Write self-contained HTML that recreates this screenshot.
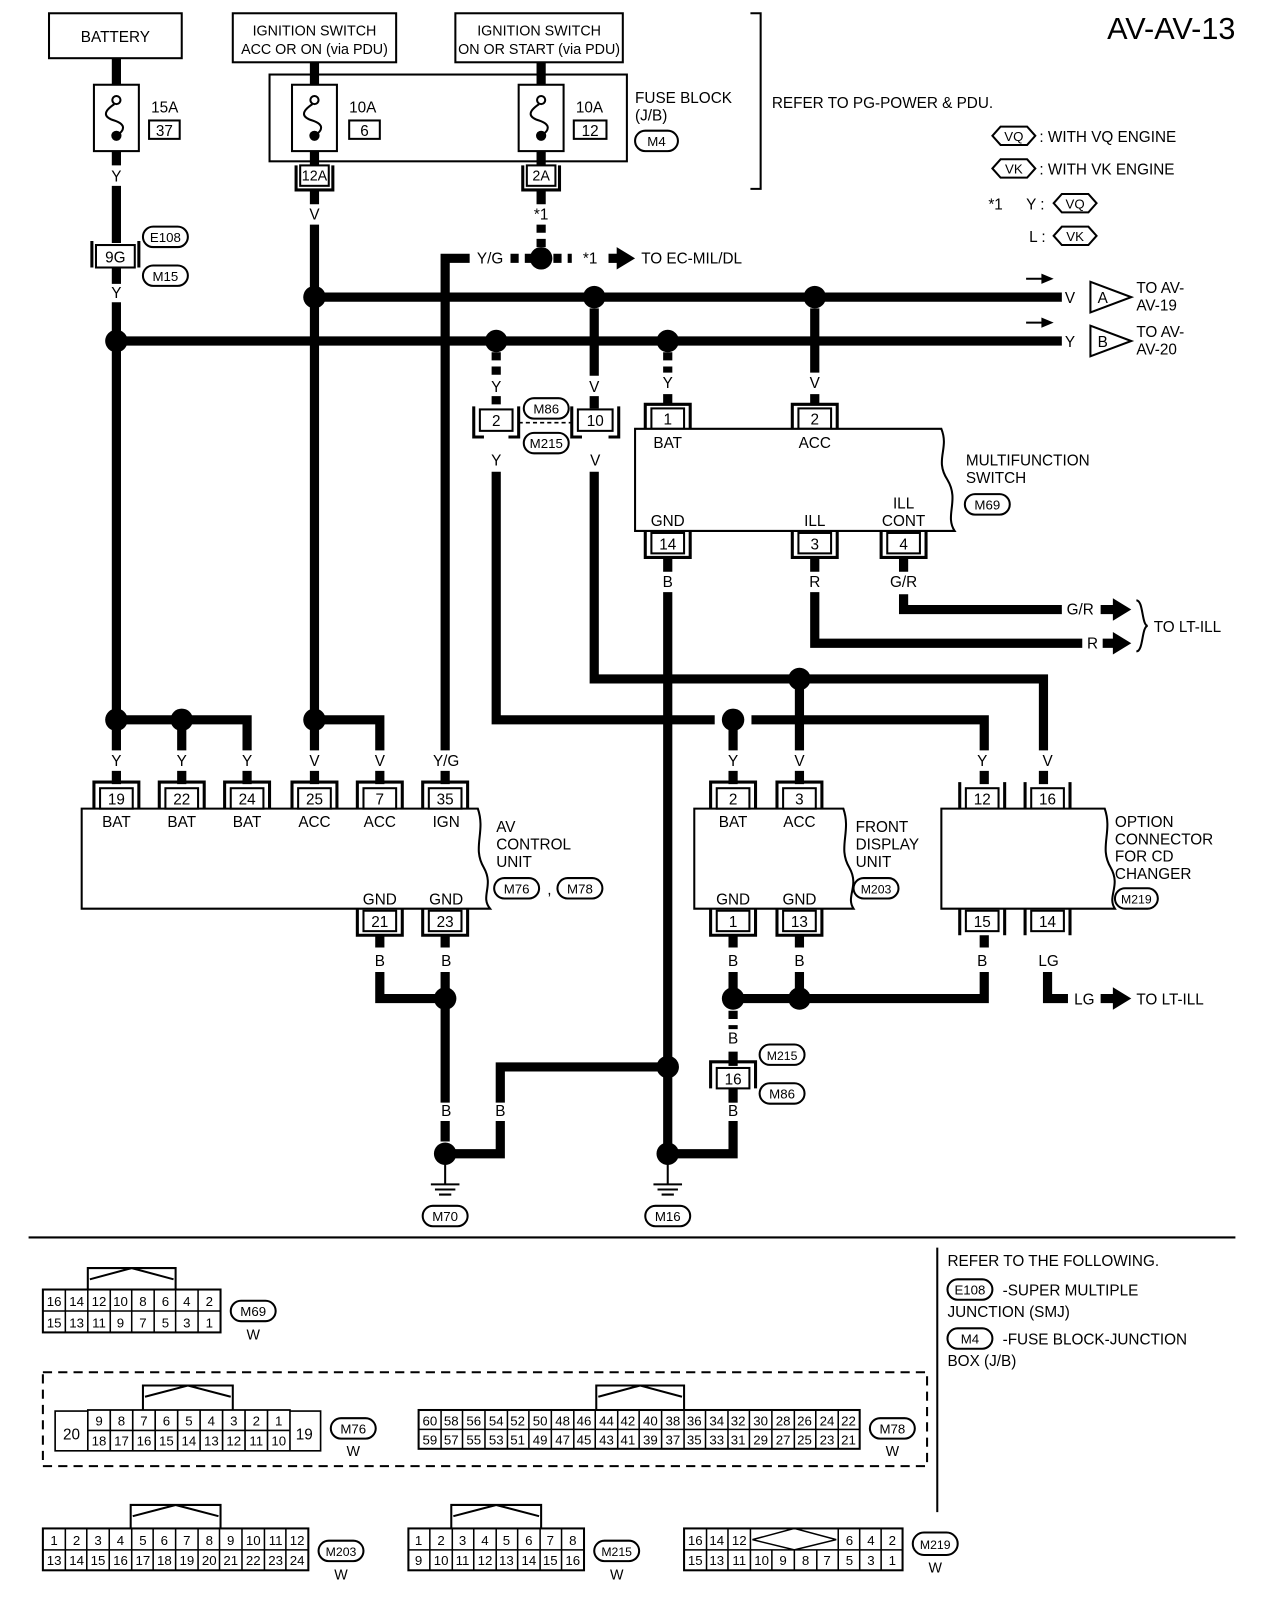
<!DOCTYPE html>
<html><head><meta charset="utf-8"><style>
html,body{margin:0;padding:0;background:#fff;}
svg{display:block;font-family:"Liberation Sans",sans-serif;}
text{font-size:15px;fill:#000;}
.c{text-anchor:middle;}
.w{stroke:#000;stroke-width:9;fill:none;}
.d{stroke:#000;stroke-width:9;fill:none;stroke-dasharray:8,6;}
.t{stroke:#000;stroke-width:2;fill:#fff;}
.n{stroke:#000;stroke-width:1.5;fill:none;}
.g text{font-size:13px;text-anchor:middle;}
</style></head><body>
<svg width="1280" height="1598" viewBox="0 0 1280 1598" xmlns="http://www.w3.org/2000/svg">
<g transform="scale(1.021)">
<!-- header boxes -->
<rect x="48" y="13" width="130" height="44" class="t"/><text x="113" y="41" class="c">BATTERY</text>
<rect x="228" y="13" width="160" height="48" class="t"/><text x="308" y="35" class="c" style="font-size:14px">IGNITION SWITCH</text><text x="308" y="53" class="c" style="font-size:14px">ACC OR ON (via PDU)</text>
<rect x="446" y="13" width="164" height="48" class="t"/><text x="528" y="35" class="c" style="font-size:14px">IGNITION SWITCH</text><text x="528" y="53" class="c" style="font-size:14px">ON OR START (via PDU)</text>
<text x="1210" y="38" style="font-size:30px;text-anchor:end">AV-AV-13</text>
<rect x="264" y="73" width="350" height="85" class="t"/>
<text x="622" y="101">FUSE BLOCK</text><text x="622" y="118">(J/B)</text>
<rect x="622" y="128" width="42" height="20" rx="10" class="t"/><text x="643" y="143" class="c" style="font-size:13px">M4</text>
<path d="M735 13 H745 V185 H735" class="n" style="stroke-width:2"/>
<text x="756" y="106">REFER TO PG-POWER &amp; PDU.</text>
<!-- legend -->
<path d="M972 133 l8 -9 h26 l8 9 l-8 9 h-26z" class="t"/><text x="993" y="138" class="c" style="font-size:13px">VQ</text><text x="1018" y="139">: WITH VQ ENGINE</text>
<path d="M972 165 l8 -9 h26 l8 9 l-8 9 h-26z" class="t"/><text x="993" y="170" class="c" style="font-size:13px">VK</text><text x="1018" y="171">: WITH VK ENGINE</text>
<text x="968" y="205">*1</text><text x="1005" y="205">Y :</text>
<path d="M1032 199 l8 -9 h26 l8 9 l-8 9 h-26z" class="t"/><text x="1053" y="204" class="c" style="font-size:13px">VQ</text>
<text x="1008" y="237">L :</text>
<path d="M1032 231 l8 -9 h26 l8 9 l-8 9 h-26z" class="t"/><text x="1053" y="236" class="c" style="font-size:13px">VK</text>

<!-- fuses -->
<g>
<path d="M114 57 V83 M114 148 V162 M114 182 V238 M114 262 V278 M114 296 V700" class="w"/>
<rect x="92" y="83" width="44" height="65" class="t"/>
<circle cx="114" cy="98" r="4" class="t"/><circle cx="114" cy="133" r="5"/>
<path d="M112 102 C100 110,102 115,112 118 C124 122,122 128,114 133" class="n" style="stroke-width:2"/>
<text x="148" y="110">15A</text><rect x="146" y="118" width="30" height="18" class="t"/><text x="161" y="133" class="c">37</text>
<text x="114" y="178" class="c">Y</text>
<rect x="94" y="240" width="38" height="22" class="t"/><path d="M90 236 V262 M136 236 V262" class="n" style="stroke-width:3"/><text x="113" y="257" class="c">9G</text>
<rect x="140" y="222" width="44" height="20" rx="10" class="t"/><text x="162" y="237" class="c" style="font-size:13px">E108</text>
<rect x="140" y="260" width="44" height="20" rx="10" class="t"/><text x="162" y="275" class="c" style="font-size:13px">M15</text>
<text x="114" y="292" class="c">Y</text>
</g>
<g>
<path d="M308 61 V83 M308 148 V162 M308 185 V200 M308 220 V700" class="w"/>
<rect x="286" y="83" width="44" height="65" class="t"/>
<circle cx="308" cy="98" r="4" class="t"/><circle cx="308" cy="133" r="5"/>
<path d="M306 102 C294 110,296 115,306 118 C318 122,316 128,308 133" class="n" style="stroke-width:2"/>
<text x="342" y="110">10A</text><rect x="342" y="118" width="30" height="18" class="t"/><text x="357" y="133" class="c">6</text>
<rect x="294" y="162" width="28" height="20" class="t"/><path d="M290 162 V186 H326 V162" class="n" style="stroke-width:3"/><text x="308" y="177" class="c" style="font-size:14px">12A</text>
<text x="308" y="215" class="c">V</text>
</g>
<g>
<path d="M530 61 V83 M530 148 V162 M530 185 V200" class="w"/><path d="M530 220 V245" class="d"/>
<rect x="508" y="83" width="44" height="65" class="t"/>
<circle cx="530" cy="98" r="4" class="t"/><circle cx="530" cy="133" r="5"/>
<path d="M528 102 C516 110,518 115,528 118 C540 122,538 128,530 133" class="n" style="stroke-width:2"/>
<text x="564" y="110">10A</text><rect x="562" y="118" width="32" height="18" class="t"/><text x="578" y="133" class="c">12</text>
<rect x="516" y="162" width="28" height="20" class="t"/><path d="M512 162 V186 H548 V162" class="n" style="stroke-width:3"/><text x="530" y="177" class="c" style="font-size:14px">2A</text>
<text x="530" y="215" class="c">*1</text>
</g>
<!-- Y/G line -->
<path d="M436 735 V253 H460" class="w"/><text x="480" y="258" class="c">Y/G</text>
<path d="M500 253 H560" class="d"/><circle cx="530" cy="253" r="11"/><text x="578" y="258" class="c">*1</text>
<path d="M596 253 H606" class="w"/><path d="M604 242 L622 253 L604 264z"/><text x="628" y="258">TO EC-MIL/DL</text>
<!-- busses -->
<path d="M308 291 H1040" class="w"/><path d="M114 334 H1040" class="w"/>
<circle cx="308" cy="291" r="11"/><circle cx="582" cy="291" r="11"/><circle cx="798" cy="291" r="11"/>
<circle cx="114" cy="334" r="11"/><circle cx="486" cy="334" r="11"/><circle cx="654" cy="334" r="11"/>
<text x="1048" y="297" class="c">V</text><path d="M1068 276 L1108 291 L1068 306z" class="t"/><text x="1080" y="297" class="c">A</text>
<text x="1113" y="287">TO AV-</text><text x="1113" y="304">AV-19</text>
<path d="M1005 273 H1022" class="n" style="stroke-width:2"/><path d="M1020 268 L1032 273 L1020 278z"/>
<text x="1048" y="340" class="c">Y</text><path d="M1068 319 L1108 334 L1068 349z" class="t"/><text x="1080" y="340" class="c">B</text>
<text x="1113" y="330">TO AV-</text><text x="1113" y="347">AV-20</text>
<path d="M1005 316 H1022" class="n" style="stroke-width:2"/><path d="M1020 311 L1032 316 L1020 321z"/>
<!-- M86 connectors -->
<path d="M486 345 V368 M486 388 V400" class="d"/><text x="486" y="384" class="c">Y</text>
<rect x="470" y="401" width="32" height="21" class="t"/><text x="486" y="417" class="c">2</text>
<path d="M464 398 V428 H474 M498 428 H508 V398" class="n" style="stroke-width:3"/>
<path d="M582 302 V368 M582 388 V400" class="w"/><text x="582" y="384" class="c">V</text>
<rect x="566" y="401" width="34" height="21" class="t"/><text x="583" y="417" class="c">10</text>
<path d="M560 398 V428 H570 M596 428 H606 V398" class="n" style="stroke-width:3"/>
<rect x="513" y="390" width="44" height="20" rx="10" class="t"/><text x="535" y="405" class="c" style="font-size:13px">M86</text>
<path d="M508 414 H562" class="n" style="stroke-dasharray:4,3"/>
<rect x="513" y="424" width="44" height="20" rx="10" class="t"/><text x="535" y="439" class="c" style="font-size:13px">M215</text>
<text x="486" y="456" class="c">Y</text><text x="583" y="456" class="c">V</text>
<path d="M486 462 V705 H700 M736 705 H964 V735" class="w"/>
<path d="M582 462 V665 H1022 V735" class="w"/>
<circle cx="718" cy="705" r="11"/><circle cx="783" cy="665" r="11"/>
<path d="M718 705 V735 M783 665 V735" class="w"/>
<!-- MF switch -->
<path d="M654 345 V365" class="d"/><text x="654" y="380" class="c">Y</text><path d="M654 386 V396" class="w"/>
<path d="M798 302 V365 M798 386 V396" class="w"/><text x="798" y="380" class="c">V</text>
<rect x="638" y="400" width="32" height="20" class="t"/><text x="654" y="416" class="c">1</text>
<rect x="782" y="400" width="32" height="20" class="t"/><text x="798" y="416" class="c">2</text>
<path d="M632 420 V396 H676 V420 M776 420 V396 H820 V420" class="n" style="stroke-width:3"/>
<path d="M622 420 H922 C930 440,915 450,928 470 C940 490,925 505,935 520 H622Z" class="t"/>
<text x="654" y="439" class="c">BAT</text><text x="798" y="439" class="c">ACC</text>
<text x="654" y="515" class="c">GND</text><text x="798" y="515" class="c">ILL</text><text x="885" y="498" class="c">ILL</text><text x="885" y="515" class="c">CONT</text>
<rect x="638" y="522" width="32" height="20" class="t"/><text x="654" y="538" class="c">14</text>
<rect x="782" y="522" width="32" height="20" class="t"/><text x="798" y="538" class="c">3</text>
<rect x="869" y="522" width="32" height="20" class="t"/><text x="885" y="538" class="c">4</text>
<path d="M632 520 V546 H676 V520 M776 520 V546 H820 V520 M863 520 V546 H907 V520" class="n" style="stroke-width:3"/>
<text x="946" y="456">MULTIFUNCTION</text><text x="946" y="473">SWITCH</text>
<rect x="945" y="484" width="44" height="20" rx="10" class="t"/><text x="967" y="499" class="c" style="font-size:13px">M69</text>
<text x="654" y="575" class="c">B</text><text x="798" y="575" class="c">R</text><text x="885" y="575" class="c">G/R</text>
<path d="M654 546 V560 M654 580 V1130" class="w"/>
<path d="M798 546 V560 M798 580 V630 H1060 M1080 630 H1092" class="w"/><text x="1070" y="635" class="c">R</text><path d="M1090 619 L1108 630 L1090 641z"/>
<path d="M885 546 V560 M885 582 V597 H1040 M1078 597 H1092" class="w"/><text x="1058" y="602" class="c">G/R</text><path d="M1090 586 L1108 597 L1090 608z"/>
<path d="M1113 588 C1120 588,1118 612,1124 613 C1118 614,1120 638,1113 638" class="n" style="stroke-width:2"/>
<text x="1130" y="619">TO LT-ILL</text>
<!-- left drops -->
<circle cx="114" cy="705" r="11"/><circle cx="178" cy="705" r="11"/><circle cx="308" cy="705" r="11"/>
<path d="M114 700 V735 M178 705 V735 M114 705 H242 V735 M308 700 V735 M308 705 H372 V735" class="w"/>
<path d="M114 755 V768 M178 755 V768 M242 755 V768 M308 755 V768 M372 755 V768 M436 755 V768 M718 755 V768 M783 755 V768 M964 755 V768 M1022 755 V768" class="w"/>
<text x="114" y="750" class="c">Y</text><text x="178" y="750" class="c">Y</text><text x="242" y="750" class="c">Y</text><text x="308" y="750" class="c">V</text><text x="372" y="750" class="c">V</text><text x="437" y="750" class="c">Y/G</text>
<text x="718" y="750" class="c">Y</text><text x="783" y="750" class="c">V</text><text x="962" y="750" class="c">Y</text><text x="1026" y="750" class="c">V</text>
<!-- AV control unit -->
<path d="M80 792 H468 C476 815,462 830,474 850 C484 868,470 878,480 890 H80Z" class="t"/>
<g class="g">
<rect x="98" y="772" width="32" height="20" class="t"/><text x="114" y="788" style="font-size:15px">19</text>
<rect x="162" y="772" width="32" height="20" class="t"/><text x="178" y="788" style="font-size:15px">22</text>
<rect x="226" y="772" width="32" height="20" class="t"/><text x="242" y="788" style="font-size:15px">24</text>
<rect x="292" y="772" width="32" height="20" class="t"/><text x="308" y="788" style="font-size:15px">25</text>
<rect x="356" y="772" width="32" height="20" class="t"/><text x="372" y="788" style="font-size:15px">7</text>
<rect x="420" y="772" width="32" height="20" class="t"/><text x="436" y="788" style="font-size:15px">35</text>
<rect x="356" y="892" width="32" height="20" class="t"/><text x="372" y="908" style="font-size:15px">21</text>
<rect x="420" y="892" width="32" height="20" class="t"/><text x="436" y="908" style="font-size:15px">23</text>
</g>
<path d="M92 792 V766 H136 V792 M156 792 V766 H200 V792 M220 792 V766 H264 V792 M286 792 V766 H330 V792 M350 792 V766 H394 V792 M414 792 V766 H458 V792 M350 890 V916 H394 V890 M414 890 V916 H458 V890" class="n" style="stroke-width:3"/>
<text x="114" y="810" class="c">BAT</text><text x="178" y="810" class="c">BAT</text><text x="242" y="810" class="c">BAT</text><text x="308" y="810" class="c">ACC</text><text x="372" y="810" class="c">ACC</text><text x="437" y="810" class="c">IGN</text>
<text x="372" y="886" class="c">GND</text><text x="437" y="886" class="c">GND</text>
<text x="486" y="815">AV</text><text x="486" y="832">CONTROL</text><text x="486" y="849">UNIT</text>
<rect x="484" y="860" width="44" height="20" rx="10" class="t"/><text x="506" y="875" class="c" style="font-size:13px">M76</text>
<text x="536" y="876">,</text>
<rect x="546" y="860" width="44" height="20" rx="10" class="t"/><text x="568" y="875" class="c" style="font-size:13px">M78</text>
<text x="372" y="946" class="c">B</text><text x="437" y="946" class="c">B</text>
<path d="M372 916 V928 M436 916 V928 M372 952 V978 H436 M436 952 V1080 M436 1098 V1118" class="w"/>
<circle cx="436" cy="978" r="11"/>
<text x="437" y="1093" class="c">B</text><text x="490" y="1093" class="c">B</text>
<circle cx="436" cy="1130" r="11"/>
<path d="M436 1130 H490 V1098 M490 1080 V1045 H654" class="w"/>
<path d="M436 1140 V1160 M422 1160 H450 M426 1165 H446 M430 1170 H442" class="n" style="stroke-width:2"/>
<rect x="414" y="1181" width="44" height="20" rx="10" class="t"/><text x="436" y="1196" class="c" style="font-size:13px">M70</text>
<circle cx="654" cy="1045" r="11"/><text x="654" y="1093" class="c">B</text>
<circle cx="654" cy="1130" r="11"/>
<path d="M654 1140 V1160 M640 1160 H668 M644 1165 H664 M648 1170 H660" class="n" style="stroke-width:2"/>
<rect x="632" y="1181" width="44" height="20" rx="10" class="t"/><text x="654" y="1196" class="c" style="font-size:13px">M16</text>
<path d="M654 1130 H718 V1098" class="w"/>
<!-- front display -->
<path d="M680 792 H826 C834 815,820 830,832 850 C842 868,828 878,836 890 H680Z" class="t"/>
<g class="g">
<rect x="702" y="772" width="32" height="20" class="t"/><text x="718" y="788" style="font-size:15px">2</text>
<rect x="767" y="772" width="32" height="20" class="t"/><text x="783" y="788" style="font-size:15px">3</text>
<rect x="702" y="892" width="32" height="20" class="t"/><text x="718" y="908" style="font-size:15px">1</text>
<rect x="767" y="892" width="32" height="20" class="t"/><text x="783" y="908" style="font-size:15px">13</text>
<rect x="946" y="772" width="32" height="20" class="t"/><text x="962" y="788" style="font-size:15px">12</text>
<rect x="1010" y="772" width="32" height="20" class="t"/><text x="1026" y="788" style="font-size:15px">16</text>
<rect x="946" y="892" width="32" height="20" class="t"/><text x="962" y="908" style="font-size:15px">15</text>
<rect x="1010" y="892" width="32" height="20" class="t"/><text x="1026" y="908" style="font-size:15px">14</text>
</g>
<path d="M696 792 V766 H740 V792 M761 792 V766 H805 V792 M696 890 V916 H740 V890 M761 890 V916 H805 V890 M940 792 V766 M984 766 V792 M1004 792 V766 M1048 766 V792 M940 890 V916 M984 916 V890 M1004 890 V916 M1048 916 V890" class="n" style="stroke-width:3"/>
<text x="718" y="810" class="c">BAT</text><text x="783" y="810" class="c">ACC</text><text x="718" y="886" class="c">GND</text><text x="783" y="886" class="c">GND</text>
<text x="838" y="815">FRONT</text><text x="838" y="832">DISPLAY</text><text x="838" y="849">UNIT</text>
<rect x="836" y="860" width="44" height="20" rx="10" class="t"/><text x="858" y="875" class="c" style="font-size:12px">M203</text>
<text x="718" y="946" class="c">B</text><text x="783" y="946" class="c">B</text>
<path d="M718 916 V928 M783 916 V928 M718 952 V978 M783 952 V978 M718 978 H964 V952 M964 916 V928" class="w"/>
<circle cx="718" cy="978" r="11"/><circle cx="783" cy="978" r="11"/>
<path d="M718 990 V1008" class="d"/><text x="718" y="1022" class="c">B</text><path d="M718 1030 V1044" class="w"/>
<rect x="702" y="1046" width="32" height="20" class="t"/><text x="718" y="1062" class="c">16</text>
<path d="M696 1066 V1040 H740 V1066" class="n" style="stroke-width:3"/>
<rect x="744" y="1023" width="44" height="20" rx="10" class="t"/><text x="766" y="1038" class="c" style="font-size:12px">M215</text>
<rect x="744" y="1061" width="44" height="20" rx="10" class="t"/><text x="766" y="1076" class="c" style="font-size:13px">M86</text>
<text x="718" y="1093" class="c">B</text><path d="M718 1066 V1080" class="w"/>
<!-- option -->
<path d="M922 792 H1082 C1090 815,1076 830,1088 850 C1098 868,1084 878,1092 890 H922Z" class="t"/>
<text x="1092" y="810">OPTION</text><text x="1092" y="827">CONNECTOR</text><text x="1092" y="844">FOR CD</text><text x="1092" y="861">CHANGER</text>
<rect x="1092" y="870" width="42" height="20" rx="10" class="t"/><text x="1113" y="885" class="c" style="font-size:12px">M219</text>
<text x="962" y="946" class="c">B</text><text x="1027" y="946" class="c">LG</text>
<path d="M1026 952 V978 H1046 M1078 978 H1092" class="w"/><text x="1062" y="984" class="c">LG</text><path d="M1090 967 L1108 978 L1090 989z"/><text x="1113" y="984">TO LT-ILL</text>
<!-- divider -->
<path d="M28 1212 H1210" class="n" style="stroke-width:2"/><path d="M918 1222 V1481" class="n" style="stroke-width:2"/>
<text x="928" y="1240">REFER TO THE FOLLOWING.</text>
<rect x="928" y="1253" width="44" height="20" rx="10" class="t"/><text x="950" y="1268" class="c" style="font-size:13px">E108</text>
<text x="982" y="1269">-SUPER MULTIPLE</text><text x="928" y="1290">JUNCTION (SMJ)</text>
<rect x="928" y="1301" width="44" height="20" rx="10" class="t"/><text x="950" y="1316" class="c" style="font-size:13px">M4</text>
<text x="982" y="1317">-FUSE BLOCK-JUNCTION</text><text x="928" y="1338">BOX (J/B)</text>
<!-- M69 connector -->
<g class="g">
<path d="M86 1263 V1242 H172 V1263 M88 1253 L129 1242 L170 1253" class="n" style="stroke-width:2"/>
<rect x="42" y="1263" width="174" height="42" class="n" style="stroke-width:2"/>
<path d="M42 1284 H216 M64 1263 V1305 M86 1263 V1305 M108 1263 V1305 M129 1263 V1305 M151 1263 V1305 M172 1263 V1305 M194 1263 V1305" class="n"/>
<text x="53" y="1279">16</text><text x="75" y="1279">14</text><text x="97" y="1279">12</text><text x="118" y="1279">10</text><text x="140" y="1279">8</text><text x="162" y="1279">6</text><text x="183" y="1279">4</text><text x="205" y="1279">2</text>
<text x="53" y="1300">15</text><text x="75" y="1300">13</text><text x="97" y="1300">11</text><text x="118" y="1300">9</text><text x="140" y="1300">7</text><text x="162" y="1300">5</text><text x="183" y="1300">3</text><text x="205" y="1300">1</text>
<rect x="226" y="1274" width="44" height="20" rx="10" class="t"/><text x="248" y="1289">M69</text><text x="248" y="1312" style="font-size:14px">W</text>
</g>
<rect x="42" y="1344" width="866" height="92" class="n" style="stroke-width:2;stroke-dasharray:9,6"/>
<!-- M76 -->
<g class="g">
<path d="M140 1381 V1357 H228 V1381 M142 1368 L184 1357 L226 1368" class="n" style="stroke-width:2"/>
<path d="M54 1382 H86 V1381 H284 V1382 H314 V1421 H54Z M86 1381 V1421 M284 1381 V1421 M86 1401 H284 M108 1381 V1421 M130 1381 V1421 M152 1381 V1421 M174 1381 V1421 M196 1381 V1421 M218 1381 V1421 M240 1381 V1421 M262 1381 V1421" class="n" style="stroke-width:1.6"/>
<text x="70" y="1410" style="font-size:15px">20</text><text x="298" y="1410" style="font-size:15px">19</text>
<text x="97" y="1396">9</text><text x="119" y="1396">8</text><text x="141" y="1396">7</text><text x="163" y="1396">6</text><text x="185" y="1396">5</text><text x="207" y="1396">4</text><text x="229" y="1396">3</text><text x="251" y="1396">2</text><text x="273" y="1396">1</text>
<text x="97" y="1416">18</text><text x="119" y="1416">17</text><text x="141" y="1416">16</text><text x="163" y="1416">15</text><text x="185" y="1416">14</text><text x="207" y="1416">13</text><text x="229" y="1416">12</text><text x="251" y="1416">11</text><text x="273" y="1416">10</text>
<rect x="324" y="1389" width="44" height="20" rx="10" class="t"/><text x="346" y="1404">M76</text><text x="346" y="1426" style="font-size:14px">W</text>
</g>
<!-- M78 -->
<g class="g">
<path d="M584 1381 V1357 H670 V1381 M586 1368 L627 1357 L668 1368" class="n" style="stroke-width:2"/>
<rect x="410" y="1381" width="432" height="38" class="n" style="stroke-width:2"/>
<path d="M410 1400 H842 M432 1381V1419 M453 1381V1419 M475 1381V1419 M497 1381V1419 M518 1381V1419 M540 1381V1419 M562 1381V1419 M583 1381V1419 M605 1381V1419 M626 1381V1419 M648 1381V1419 M670 1381V1419 M691 1381V1419 M713 1381V1419 M734 1381V1419 M756 1381V1419 M778 1381V1419 M799 1381V1419 M821 1381V1419" class="n"/>
<text x="421" y="1396">60</text><text x="442" y="1396">58</text><text x="464" y="1396">56</text><text x="486" y="1396">54</text><text x="507" y="1396">52</text><text x="529" y="1396">50</text><text x="551" y="1396">48</text><text x="572" y="1396">46</text><text x="594" y="1396">44</text><text x="615" y="1396">42</text><text x="637" y="1396">40</text><text x="659" y="1396">38</text><text x="680" y="1396">36</text><text x="702" y="1396">34</text><text x="723" y="1396">32</text><text x="745" y="1396">30</text><text x="767" y="1396">28</text><text x="788" y="1396">26</text><text x="810" y="1396">24</text><text x="831" y="1396">22</text>
<text x="421" y="1415">59</text><text x="442" y="1415">57</text><text x="464" y="1415">55</text><text x="486" y="1415">53</text><text x="507" y="1415">51</text><text x="529" y="1415">49</text><text x="551" y="1415">47</text><text x="572" y="1415">45</text><text x="594" y="1415">43</text><text x="615" y="1415">41</text><text x="637" y="1415">39</text><text x="659" y="1415">37</text><text x="680" y="1415">35</text><text x="702" y="1415">33</text><text x="723" y="1415">31</text><text x="745" y="1415">29</text><text x="767" y="1415">27</text><text x="788" y="1415">25</text><text x="810" y="1415">23</text><text x="831" y="1415">21</text>
<rect x="852" y="1389" width="44" height="20" rx="10" class="t"/><text x="874" y="1404">M78</text><text x="874" y="1426" style="font-size:14px">W</text>
</g>
<!-- M203 -->
<g class="g">
<path d="M128 1497 V1474 H216 V1497 M130 1485 L172 1474 L214 1485" class="n" style="stroke-width:2"/>
<rect x="42" y="1497" width="260" height="41" class="n" style="stroke-width:2"/>
<path d="M42 1518 H302 M64 1497V1538 M85 1497V1538 M107 1497V1538 M129 1497V1538 M150 1497V1538 M172 1497V1538 M194 1497V1538 M215 1497V1538 M237 1497V1538 M259 1497V1538 M280 1497V1538" class="n"/>
<text x="53" y="1513">1</text><text x="75" y="1513">2</text><text x="96" y="1513">3</text><text x="118" y="1513">4</text><text x="140" y="1513">5</text><text x="161" y="1513">6</text><text x="183" y="1513">7</text><text x="205" y="1513">8</text><text x="226" y="1513">9</text><text x="248" y="1513">10</text><text x="270" y="1513">11</text><text x="291" y="1513">12</text>
<text x="53" y="1533">13</text><text x="75" y="1533">14</text><text x="96" y="1533">15</text><text x="118" y="1533">16</text><text x="140" y="1533">17</text><text x="161" y="1533">18</text><text x="183" y="1533">19</text><text x="205" y="1533">20</text><text x="226" y="1533">21</text><text x="248" y="1533">22</text><text x="270" y="1533">23</text><text x="291" y="1533">24</text>
<rect x="312" y="1509" width="44" height="20" rx="10" class="t"/><text x="334" y="1524" style="font-size:12px">M203</text><text x="334" y="1547" style="font-size:14px">W</text>
</g>
<!-- M215 -->
<g class="g">
<path d="M442 1497 V1474 H530 V1497 M444 1485 L486 1474 L528 1485" class="n" style="stroke-width:2"/>
<rect x="400" y="1497" width="172" height="41" class="n" style="stroke-width:2"/>
<path d="M400 1518 H572 M421 1497V1538 M443 1497V1538 M464 1497V1538 M486 1497V1538 M507 1497V1538 M529 1497V1538 M550 1497V1538" class="n"/>
<text x="410" y="1513">1</text><text x="432" y="1513">2</text><text x="453" y="1513">3</text><text x="475" y="1513">4</text><text x="496" y="1513">5</text><text x="518" y="1513">6</text><text x="539" y="1513">7</text><text x="561" y="1513">8</text>
<text x="410" y="1533">9</text><text x="432" y="1533">10</text><text x="453" y="1533">11</text><text x="475" y="1533">12</text><text x="496" y="1533">13</text><text x="518" y="1533">14</text><text x="539" y="1533">15</text><text x="561" y="1533">16</text>
<rect x="582" y="1509" width="44" height="20" rx="10" class="t"/><text x="604" y="1524" style="font-size:12px">M215</text><text x="604" y="1547" style="font-size:14px">W</text>
</g>
<!-- M219 -->
<g class="g">
<rect x="670" y="1497" width="214" height="41" class="n" style="stroke-width:2"/>
<path d="M670 1518 H735 M821 1518 H884 M735 1518 H821 M692 1497V1538 M713 1497V1538 M735 1497V1538 M756 1518V1538 M778 1518V1538 M800 1518V1538 M821 1497V1538 M842 1497V1538 M863 1497V1538 M737 1508 L778 1497 L819 1508 L778 1518Z" class="n"/>
<text x="681" y="1513">16</text><text x="702" y="1513">14</text><text x="724" y="1513">12</text><text x="832" y="1513">6</text><text x="853" y="1513">4</text><text x="874" y="1513">2</text>
<text x="681" y="1533">15</text><text x="702" y="1533">13</text><text x="724" y="1533">11</text><text x="746" y="1533">10</text><text x="767" y="1533">9</text><text x="789" y="1533">8</text><text x="810" y="1533">7</text><text x="832" y="1533">5</text><text x="853" y="1533">3</text><text x="874" y="1533">1</text>
<rect x="894" y="1501" width="44" height="22" rx="11" class="t"/><text x="916" y="1517" style="font-size:12px">M219</text><text x="916" y="1540" style="font-size:14px">W</text>
</g>
</g>
</svg>
</body></html>
